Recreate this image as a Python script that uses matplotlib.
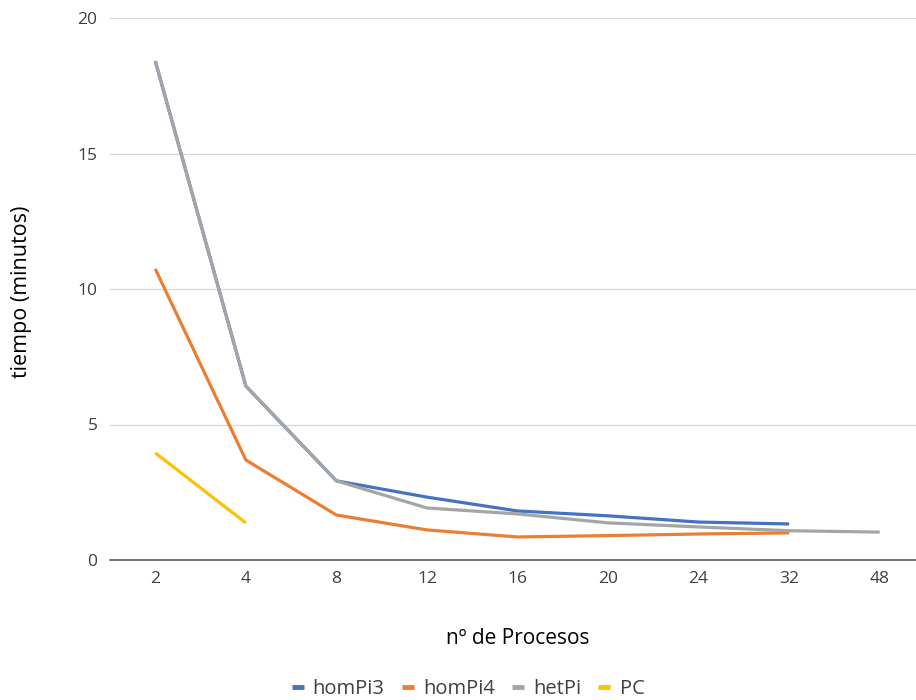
import numpy as np
import matplotlib
matplotlib.use("Agg")
import matplotlib.pyplot as plt

plt.rcParams['font.family'] = ['Open Sans', 'DejaVu Sans']

procesos = ["2", "4", "8", "12", "16", "20", "24", "32", "48"]
homPi3 = [18.41, 6.42, 2.92, 2.32, 1.81, 1.63, 1.40, 1.33, None]
homPi4 = [10.74, 3.69, 1.66, 1.11, 0.85, 0.90, 0.96, 1.00, None]
hetPi = [18.41, 6.42, 2.92, 1.92, 1.70, 1.37, 1.22, 1.08, 1.03]
pc = [3.95, 1.37, None, None, None, None, None, None, None]

series = [("homPi3", homPi3, "#4472C4"),
          ("homPi4", homPi4, "#ED7D31"),
          ("hetPi", hetPi, "#A5A5A5"),
          ("PC", pc, "#FFC000")]

fig = plt.figure(figsize=(9.16, 7.0), dpi=100)
ax = fig.add_axes([110 / 916, 140 / 700, 815 / 916, 542 / 700])

x = np.arange(len(procesos))
for name, vals, color in series:
    y = np.array([np.nan if v is None else v for v in vals], dtype=float)
    ax.plot(x, y, color=color, lw=2.3, label=name, solid_capstyle='butt')

ax.set_xlim(-0.5, len(procesos) - 0.5)
ax.set_ylim(0, 20)
ax.set_yticks([0, 5, 10, 15, 20])
ax.set_xticks(x)
ax.set_xticklabels(procesos)
ax.tick_params(axis='both', length=0, labelsize=12.5, labelcolor='#404040')
ax.tick_params(axis='y', pad=9)
ax.tick_params(axis='x', pad=8)
ax.grid(axis='y', color='#D9D9D9', lw=0.9)
ax.set_axisbelow(True)
for s in ['top', 'right', 'left']:
    ax.spines[s].set_visible(False)
ax.spines['bottom'].set_color('#595959')
ax.spines['bottom'].set_linewidth(1.2)

fig.text(518 / 916, 1 - 638 / 700, "nº de Procesos", ha='center', va='center',
         fontsize=15, color='#000000')
fig.text(22 / 916, 1 - 292 / 700, "tiempo (minutos)", ha='center', va='center',
         rotation=90, fontsize=15.5, color='#000000')

leg = fig.legend(loc='center', bbox_to_anchor=(468 / 916, 1 - 689 / 700), ncol=4,
                 frameon=False, fontsize=14.5, handlelength=0.6, handletextpad=0.45,
                 columnspacing=0.85)
for h in leg.get_lines():
    h.set_linewidth(3.5)
for t in leg.get_texts():
    t.set_color('#404040')

fig.savefig("out.png", dpi=100)
